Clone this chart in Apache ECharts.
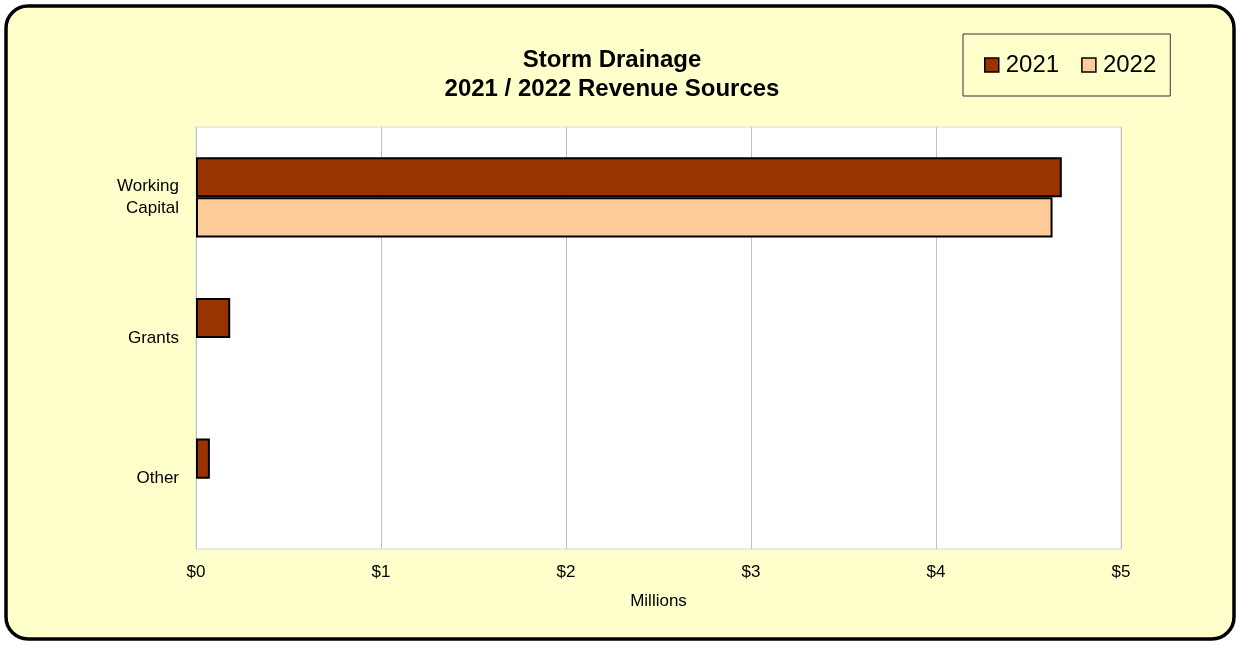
<!DOCTYPE html>
<html><head><meta charset="utf-8">
<script src="https://cdn.jsdelivr.net/npm/echarts@6/dist/echarts.min.js"></script>
<style>html,body{margin:0;padding:0;background:#fff}#c{width:1240px;height:645px}</style>
</head><body><div id="c"></div>
<script>
const categories = ['Working\nCapital', 'Grants', 'Other'];
const values2021 = [4.68, 0.185, 0.075];
const values2022 = [4.63, null, null];
const xTicks = ['$0', '$1', '$2', '$3', '$4', '$5'];

const chart = echarts.init(document.getElementById('c'), null, {renderer: 'canvas'});
const font = 'Arial, "Liberation Sans", sans-serif';
chart.setOption({
  backgroundColor: '#ffffff',
  animation: false,
  graphic: [{
    type: 'rect', z: -10, silent: true,
    shape: {x: 6, y: 6, width: 1228, height: 633, r: 22},
    style: {fill: '#FFFFCC', stroke: '#000', lineWidth: 3.5}
  }],
  title: {
    text: 'Storm Drainage\n2021 / 2022 Revenue Sources',
    left: 607, top: 41, textAlign: 'center',
    textStyle: {fontFamily: font, fontSize: 24, fontWeight: 'bold', color: '#000', lineHeight: 29}
  },
  legend: {
    left: 963, top: 34,
    padding: [19, 14, 19, 21],
    itemGap: 22, itemWidth: 14, itemHeight: 14,
    borderColor: '#333', borderWidth: 1, backgroundColor: '#FFFFCC',
    textStyle: {fontFamily: font, fontSize: 24, color: '#000', padding: [0, 0, 0, 2]},
    data: [
      {name: '2021', icon: 'rect', itemStyle: {borderColor: '#000', borderWidth: 1.5}},
      {name: '2022', icon: 'rect', itemStyle: {borderColor: '#000', borderWidth: 1.5}}
    ]
  },
  grid: {
    left: 196, right: 119, top: 127, bottom: 96,
    show: true, backgroundColor: '#ffffff', borderColor: '#d8d8d8', borderWidth: 1
  },
  xAxis: {
    type: 'value', min: 0, max: 5, interval: 1,
    name: 'Millions', nameLocation: 'middle', nameGap: 44,
    nameTextStyle: {fontFamily: font, fontSize: 17, color: '#000'},
    axisLine: {show: false}, axisTick: {show: false},
    axisLabel: {fontFamily: font, fontSize: 17, color: '#000', margin: 15,
      formatter: v => xTicks[Math.round(v)]},
    splitLine: {show: true, lineStyle: {color: '#c0c0c0', width: 1}}
  },
  yAxis: {
    type: 'category', inverse: true, data: categories,
    axisLine: {show: false}, axisTick: {show: false},
    axisLabel: {fontFamily: font, fontSize: 17, color: '#000', margin: 17, lineHeight: 22}
  },
  series: [
    {name: '2021', type: 'bar', data: values2021, barCategoryGap: '43%', barGap: '0%',
     itemStyle: {color: '#993300', borderColor: '#000', borderWidth: 2}},
    {name: '2022', type: 'bar', data: values2022, barCategoryGap: '43%', barGap: '0%',
     itemStyle: {color: '#FFCC99', borderColor: '#000', borderWidth: 2}}
  ]
});
</script></body></html>
